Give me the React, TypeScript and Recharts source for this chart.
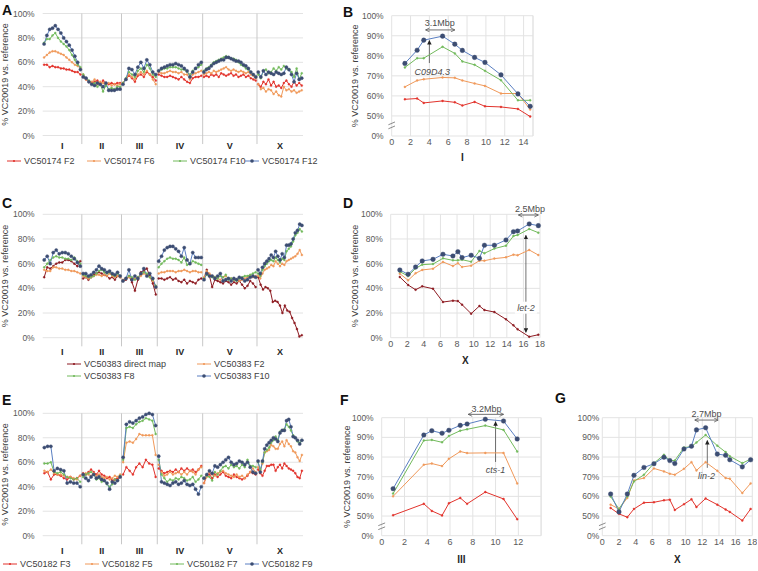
import React from "react";
import {
  LineChart,
  Line,
  XAxis,
  YAxis,
  CartesianGrid,
  ReferenceLine,
  ReferenceDot,
} from "recharts";

const FONT = '"Liberation Sans", Arial, sans-serif';
const RED = "#e2332c";
const DARKRED = "#8e1b22";
const ORANGE = "#f0995a";
const GREEN = "#72ba5c";
const BLUE = "#5a7fc2";
const NAVY = "#3c4d72";
const GRID = "#e3e3e3";
const SEP = "#c8c8c8";
const TICK = "#595959";
const INK = "#404040";
const ANNO = "#4d4d4d";

// chromosomes (Mb)
const CHROMS = ["I", "II", "III", "IV", "V", "X"];
const CHROM_LEN = [15.07, 15.28, 13.78, 17.49, 20.92, 17.72];

// ---- A: VC50174, one array per chromosome ----
const aF2 = [
  [58, 58, 56, 57, 56, 56, 55, 55, 54, 54, 53, 52, 52, 50],
  [48, 46, 44, 43, 44, 45, 42, 45, 43, 42, 43, 42, 43, 43],
  [43, 46, 49, 47, 44, 49, 50, 48, 52, 50, 48, 45],
  [50, 49, 48, 48, 49, 48, 47, 46, 48, 46, 44, 43, 47, 48, 48, 49],
  [48, 49, 48, 50, 49, 50, 48, 51, 50, 49, 50, 51, 49, 50, 48, 49, 50, 48, 49, 47, 46, 45],
  [42, 40, 44, 42, 46, 41, 44, 40, 41, 39, 43, 45, 42, 40, 44, 41, 43, 41],
];
const aF6 = [
  [64, 66, 68, 69, 69, 68, 67, 66, 64, 62, 60, 58, 57, 55],
  [50, 46, 44, 44, 46, 42, 44, 43, 42, 43, 41, 42, 41, 42],
  [43, 46, 50, 48, 46, 50, 52, 50, 53, 50, 46, 42],
  [52, 51, 51, 52, 53, 52, 52, 51, 52, 50, 50, 46, 50, 51, 52, 53],
  [50, 51, 52, 51, 53, 52, 53, 54, 55, 56, 54, 53, 54, 53, 52, 53, 52, 51, 52, 50, 49, 47],
  [42, 38, 39, 36, 38, 37, 34, 36, 33, 32, 40, 37, 38, 36, 37, 35, 36, 37],
];
const aF10 = [
  [76, 79, 79, 82, 84, 80, 77, 75, 73, 70, 66, 62, 58, 56],
  [50, 47, 45, 42, 43, 40, 42, 36, 41, 38, 39, 38, 40, 40],
  [43, 47, 52, 50, 48, 53, 55, 52, 58, 55, 50, 48],
  [53, 54, 55, 55, 56, 56, 56, 55, 54, 54, 52, 50, 53, 55, 56, 58],
  [53, 55, 56, 58, 60, 61, 62, 63, 64, 65, 64, 63, 63, 62, 60, 58, 57, 55, 54, 52, 50, 48],
  [50, 47, 53, 54, 51, 52, 55, 53, 56, 54, 57, 55, 54, 52, 48, 55, 46, 51],
];
const aF12 = [
  [75, 82, 87, 88, 90, 87, 84, 80, 77, 74, 70, 65, 60, 54],
  [48, 47, 44, 42, 41, 43, 42, 40, 43, 37, 37, 37, 38, 38],
  [42, 46, 55, 54, 50, 56, 60, 55, 62, 58, 52, 50],
  [53, 55, 56, 57, 58, 58, 59, 58, 57, 55, 53, 48, 52, 55, 58, 60],
  [52, 54, 55, 57, 59, 60, 61, 62, 62, 64, 64, 63, 62, 61, 61, 60, 58, 57, 55, 52, 50, 48],
  [52, 48, 53, 50, 52, 51, 50, 52, 51, 50, 51, 56, 54, 50, 44, 51, 46, 47],
];

// ---- C: VC50383 ----
const cDM = [
  [49, 57, 56, 58, 60, 61, 61, 63, 63, 62, 60, 58, 62],
  [48, 49, 47, 49, 51, 52, 53, 52, 51, 50, 48, 49, 47, 50, 49],
  [46, 47, 50, 45, 38, 47, 53, 54, 56, 50, 44, 35],
  [48, 48, 47, 48, 49, 47, 48, 46, 45, 47, 44, 46, 45, 44, 47, 48],
  [48, 55, 50, 41, 47, 46, 45, 44, 46, 45, 43, 45, 44, 46, 43, 40, 42, 46, 44, 41],
  [49, 43, 39, 41, 40, 38, 29, 30, 29, 26, 20, 26, 22, 21, 16, 12, 7, 1, 2],
];
const cF2 = [
  [55, 54, 54, 57, 57, 56, 56, 55, 55, 54, 54, 53, 52],
  [50, 49, 48, 49, 50, 51, 51, 50, 51, 50, 52, 50, 49, 50, 49],
  [47, 48, 49, 48, 48, 49, 50, 52, 51, 49, 46, 40],
  [52, 53, 53, 54, 54, 54, 53, 54, 54, 55, 54, 53, 54, 54, 53, 53],
  [49, 54, 52, 50, 49, 48, 47, 49, 50, 48, 48, 47, 47, 46, 47, 48, 49, 50, 49, 50],
  [50, 48, 52, 55, 56, 57, 59, 58, 62, 60, 58, 60, 59, 62, 63, 64, 65, 66, 68, 71, 67],
];
const cF8 = [
  [57, 60, 63, 65, 66, 65, 65, 64, 64, 63, 65, 62, 60],
  [51, 50, 49, 49, 50, 52, 54, 55, 53, 52, 53, 51, 50, 52, 50],
  [46, 48, 50, 49, 47, 49, 52, 53, 52, 49, 47, 42],
  [57, 60, 62, 64, 65, 64, 64, 63, 61, 65, 59, 60, 62, 61, 60, 59],
  [48, 51, 50, 49, 49, 48, 50, 49, 51, 47, 48, 47, 46, 48, 49, 50, 50, 51, 52, 53],
  [52, 50, 55, 58, 60, 62, 63, 62, 65, 63, 61, 64, 63, 70, 72, 74, 78, 83, 85, 88, 86],
];
const cF10 = [
  [63, 66, 60, 69, 71, 68, 69, 69, 68, 66, 64, 61, 58],
  [52, 52, 50, 51, 53, 55, 58, 56, 55, 53, 54, 52, 51, 53, 50],
  [46, 48, 55, 47, 50, 48, 52, 56, 50, 52, 48, 41],
  [62, 66, 71, 73, 74, 74, 72, 70, 66, 73, 63, 60, 69, 65, 65, 65],
  [47, 52, 50, 50, 48, 50, 52, 46, 47, 48, 46, 48, 47, 49, 48, 46, 47, 49, 50, 49],
  [55, 52, 57, 60, 62, 64, 67, 65, 70, 66, 63, 68, 65, 75, 75, 76, 80, 85, 87, 92, 91],
];

// ---- E: VC50182 ----
const eF3 = [
  [51, 52, 46, 50, 50, 49, 47, 46, 48, 46, 47, 49],
  [51, 50, 52, 54, 52, 50, 53, 50, 49, 47, 48, 45, 46, 47, 48],
  [50, 56, 53, 50, 56, 59, 56, 62, 59, 58, 48],
  [55, 53, 51, 52, 53, 52, 54, 52, 55, 53, 55, 53, 54, 52, 54, 57],
  [43, 49, 50, 47, 50, 48, 50, 52, 49, 48, 47, 50, 48, 47, 46, 47, 49, 52, 51, 50],
  [54, 51, 49, 53, 57, 57, 58, 58, 53, 56, 58, 55, 59, 57, 55, 54, 53, 51, 48, 47, 53],
];
const eF5 = [
  [53, 52, 54, 51, 50, 50, 49, 48, 48, 47, 46, 49],
  [50, 51, 50, 49, 51, 49, 50, 48, 47, 48, 46, 47, 49, 48, 50],
  [60, 76, 77, 76, 79, 83, 82, 82, 82, 82, 66],
  [58, 52, 49, 50, 52, 50, 51, 52, 50, 52, 50, 53, 52, 50, 54, 56],
  [43, 48, 52, 50, 49, 51, 52, 53, 51, 50, 49, 48, 50, 48, 49, 47, 50, 52, 55, 52],
  [56, 53, 59, 68, 69, 70, 74, 73, 71, 71, 75, 77, 73, 78, 75, 73, 69, 68, 64, 61, 66],
];
const eF7 = [
  [59, 59, 60, 52, 51, 52, 50, 48, 47, 46, 47, 44],
  [48, 50, 51, 52, 50, 46, 47, 44, 45, 42, 40, 42, 46, 45, 49],
  [62, 88, 89, 88, 91, 93, 94, 96, 95, 94, 83],
  [62, 50, 47, 44, 46, 45, 47, 46, 48, 47, 45, 46, 48, 44, 46, 49],
  [47, 49, 48, 45, 52, 50, 53, 56, 57, 55, 58, 56, 57, 55, 58, 56, 62, 57, 57, 56],
  [60, 54, 60, 68, 70, 72, 76, 78, 81, 78, 85, 86, 87, 91, 89, 86, 82, 80, 77, 76, 78],
];
const eF9 = [
  [72, 73, 73, 53, 55, 54, 53, 43, 44, 43, 43, 40],
  [50, 47, 45, 48, 50, 47, 48, 46, 45, 43, 38, 44, 43, 45, 48],
  [64, 91, 93, 92, 94, 96, 97, 99, 100, 99, 90],
  [65, 44, 43, 42, 41, 43, 44, 42, 43, 45, 42, 41, 42, 38, 34, 40],
  [47, 50, 53, 51, 57, 56, 58, 60, 62, 64, 60, 58, 59, 61, 60, 58, 60, 56, 52, 51],
  [61, 52, 61, 71, 74, 76, 78, 80, 79, 77, 84, 86, 86, 94, 95, 89, 81, 80, 78, 75, 78],
];

// ---- B: chromosome I detail ----
const bX = [1.4, 2.7, 3.4, 5.4, 6.7, 7.5, 8.8, 9.9, 11.6, 13.4, 14.7];
const bF2 = [58.3, 58.7, 56.5, 57.5, 56.8, 55.2, 57, 54.8, 54.5, 53.5, 49.7];
const bF6 = [64.5, 67.7, 68.3, 69.2, 69, 67.7, 66.2, 65, 61.2, 61.2, 53.2];
const bF10 = [74.2, 78.8, 78.8, 84.5, 81.2, 77.2, 75.5, 72.5, 67.8, 57.8, 57.8];
const bF12 = [76.2, 82.8, 87.8, 89.8, 85.8, 82.7, 79.2, 76.7, 70.5, 61, 54.8];

// ---- D: chromosome X detail ----
const dX = [1.1, 2.1, 3.0, 3.8, 5.1, 6.3, 7.5, 8.1, 8.6, 9.7, 10.7, 11.3, 12.5, 13.9, 14.8, 15.3, 16.7, 17.8];
const dDM = [49.2, 42.7, 38.9, 41.6, 39.7, 28.9, 30, 29.7, 26.8, 19.5, 25.7, 22.4, 20.8, 14.9, 10, 6.8, 0.8, 2.4];
const dF2 = [51.9, 46.5, 52.2, 54.9, 55.9, 61.4, 58.1, 60.3, 57.3, 58.4, 62.4, 62.4, 64.1, 65.1, 67.3, 66.8, 71.1, 67];
const dF8 = [53.5, 50, 56.2, 59.2, 59.7, 64.3, 62.7, 62.7, 63.2, 61.6, 70.3, 68.4, 72.2, 74.6, 82.4, 83.2, 88.1, 85.1];
const dF10 = [54.9, 51.4, 57.3, 62.2, 63.5, 67.6, 66.2, 69.7, 64.9, 66.8, 64.3, 74.9, 74.9, 79.2, 85.9, 86.5, 92.2, 90.8];

// ---- F: chromosome III detail ----
const fX = [1.0, 3.7, 4.4, 5.3, 5.9, 6.9, 7.5, 9.1, 10.7, 11.9];
const fF3 = [50.4, 56.2, 52.6, 50.3, 56.5, 59.2, 56.2, 62.2, 58.7, 48.4];
const fF5 = [60, 76.1, 76.7, 75.4, 79.1, 82.8, 82, 82.1, 82.1, 66.6];
const fF7 = [61.4, 88.4, 88.7, 87.5, 90.7, 93.4, 94.1, 96, 93.8, 82.8];
const fF9 = [63.9, 91.2, 93.4, 92.1, 93.6, 96.1, 96.8, 99.2, 98.3, 89.2];

// ---- G: chromosome X detail ----
const gX = [1.0, 2.0, 3.0, 3.8, 5.0, 6.2, 7.4, 8.1, 8.7, 9.8, 10.7, 11.3, 12.4, 13.8, 14.8, 15.3, 16.8, 17.8];
const gF3 = [54.1, 51.1, 49.4, 53.6, 56.8, 57, 58, 58.3, 53.1, 56, 58.5, 54.6, 58.9, 55.8, 53.3, 52.1, 47.7, 53.6];
const gF5 = [55.8, 53.6, 59.2, 68.1, 69.3, 74.2, 72.7, 71.5, 71, 74, 77.4, 73.2, 77.4, 73, 69.3, 69, 61.7, 66.6];
const gF7 = [59.9, 53.6, 59.9, 67.6, 71, 76.9, 81.1, 78.2, 78.2, 84.8, 85.3, 87.4, 91.2, 85.8, 82.5, 80.4, 76.9, 78.9];
const gF9 = [61.2, 52.1, 61.2, 70.7, 74.7, 76.6, 79.9, 78.2, 76.7, 84.1, 85.5, 93.8, 94.9, 81.5, 80.9, 78.6, 75, 78.6];

const OFFSETS = CHROM_LEN.map((_, i) => CHROM_LEN.slice(0, i).reduce((a, b) => a + b, 0));
const GENOME_END = OFFSETS[5] + CHROM_LEN[5];
const CENTERS = OFFSETS.map((o, i) => o + CHROM_LEN[i] / 2);
const BOUNDS = OFFSETS.slice(1);

// evenly spaced bins in each chromosome, null row to break the line between chromosomes
function genomeRows(perChrom: number[][]) {
  const rows: { x: number; v: number | null }[] = [];
  perChrom.forEach((vals, c) => {
    const step = CHROM_LEN[c] / vals.length;
    vals.forEach((v, i) => rows.push({ x: OFFSETS[c] + step * (i + 0.5), v }));
    rows.push({ x: OFFSETS[c] + CHROM_LEN[c], v: null });
  });
  return rows;
}

const yTitle = (offset: number) => ({
  value: "% VC20019 vs. reference",
  angle: -90,
  position: "insideLeft",
  offset,
  fontSize: 9,
  fill: INK,
  style: { textAnchor: "middle" },
});

const dotFor = (color: string, navy?: boolean, big = 1.6) =>
  navy
    ? { r: big, fill: NAVY, stroke: NAVY, strokeWidth: 0.4 }
    : { r: 1, fill: color, stroke: color, strokeWidth: 0.4 };

type GLine = { name: string; values: number[][]; color: string; navy?: boolean };

function GenomeChart({
  top,
  height,
  plotTop,
  axisH,
  tickMargin,
  lines,
}: {
  top: number;
  height: number;
  plotTop: number;
  axisH: number;
  tickMargin: number;
  lines: GLine[];
}) {
  return (
    <div style={{ position: "absolute", left: 0, top }}>
      <LineChart width={310} height={height} margin={{ top: plotTop, right: 7, bottom: 0, left: 0 }}>
        <CartesianGrid vertical={false} stroke={GRID} />
        <XAxis
          type="number"
          dataKey="x"
          domain={[0, GENOME_END]}
          ticks={CENTERS}
          interval={0}
          tickFormatter={(v: number) => CHROMS[CENTERS.indexOf(v)]}
          axisLine={false}
          tickLine={false}
          tickMargin={tickMargin}
          height={axisH}
          tick={{ fontSize: 9, fontWeight: 700, fill: "#262626" }}
        />
        <YAxis
          type="number"
          domain={[0, 100]}
          ticks={[0, 20, 40, 60, 80, 100]}
          interval={0}
          tickFormatter={(v: number) => `${v}%`}
          axisLine={false}
          tickLine={false}
          width={42.7}
          tick={{ fontSize: 8.5, fill: TICK }}
          label={yTitle(5) as any}
        />
        {BOUNDS.map((b) => (
          <ReferenceLine
            key={b}
            segment={[
              { x: b, y: -7 },
              { x: b, y: 100 },
            ]}
            stroke={SEP}
            ifOverflow="visible"
          />
        ))}
        {lines.map((l) => (
          <Line
            key={l.name}
            data={genomeRows(l.values)}
            dataKey="v"
            stroke={l.color}
            strokeWidth={1}
            dot={dotFor(l.color, l.navy)}
            connectNulls={false}
            isAnimationActive={false}
          />
        ))}
      </LineChart>
    </div>
  );
}

// annotation helpers (data coordinates)
const arrow = (key: string, x1: number, y1: number, x2: number, y2: number, kind: "open" | "fill") => (
  <ReferenceLine
    key={key}
    segment={[
      { x: x1, y: y1 },
      { x: x2, y: y2 },
    ]}
    ifOverflow="visible"
    shape={(p: any) => (
      <line
        x1={p.x1}
        y1={p.y1}
        x2={p.x2}
        y2={p.y2}
        stroke={ANNO}
        strokeWidth={0.8}
        markerEnd={kind === "open" ? "url(#arrOpen)" : "url(#arrFill)"}
        markerStart={kind === "open" ? "url(#arrOpen)" : undefined}
      />
    )}
  />
);

const arrow2 = (key: string, x: number, y1: number, y2: number) => (
  <ReferenceLine
    key={key}
    segment={[
      { x, y: y1 },
      { x, y: y2 },
    ]}
    ifOverflow="visible"
    shape={(p: any) => (
      <line
        x1={p.x1}
        y1={p.y1}
        x2={p.x2}
        y2={p.y2}
        stroke={ANNO}
        strokeWidth={0.8}
        markerEnd="url(#arrFill)"
        markerStart="url(#arrFill)"
      />
    )}
  />
);

const note = (key: string, x: number, y: number, text: string, italic = false, bg = 0) => (
  <ReferenceDot
    key={key}
    x={x}
    y={y}
    r={1}
    ifOverflow="visible"
    shape={(p: any) => (
      <g>
        {bg > 0 && <rect x={p.cx - bg / 2} y={p.cy - 6} width={bg} height={12} fill="#fff" />}
        <text
          x={p.cx}
          y={p.cy}
          dy="0.35em"
          textAnchor="middle"
          fontSize={9}
          fontStyle={italic ? "italic" : "normal"}
          fill={ANNO}
        >
          {text}
        </text>
      </g>
    )}
  />
);

const breakMark = (key: string, y: number, dx: number) => [
  <ReferenceLine
    key={key + "a"}
    segment={[
      { x: -dx, y: y - 1.4 },
      { x: dx, y: y },
    ]}
    stroke="#8c8c8c"
    ifOverflow="visible"
  />,
  <ReferenceLine
    key={key + "b"}
    segment={[
      { x: -dx, y: y + 0.6 },
      { x: dx, y: y + 2 },
    ]}
    stroke="#8c8c8c"
    ifOverflow="visible"
  />,
];

type DLine = { key: string; color: string; navy?: boolean };

function DetailChart(props: {
  left: number;
  top: number;
  width: number;
  height: number;
  mTop: number;
  mRight: number;
  yW: number;
  xH: number;
  xMax: number;
  xTicks: number[];
  xLabel: string;
  xLabelOffset: number;
  broken: boolean;
  titleOffset?: number;
  yTickMargin?: number;
  data: any[];
  lines: DLine[];
  extras: React.ReactNode[];
  edge?: number;
}) {
  const { broken } = props;
  const yv = (v: number) => (broken ? v - 40 : v);
  return (
    <div style={{ position: "absolute", left: props.left, top: props.top }}>
      <LineChart
        width={props.width}
        height={props.height}
        margin={{ top: props.mTop, right: props.mRight, bottom: 0, left: 0 }}
      >
        <CartesianGrid stroke={GRID} />
        <XAxis
          type="number"
          dataKey="x"
          domain={[0, props.xMax]}
          ticks={props.xTicks}
          interval={0}
          axisLine={false}
          tickLine={false}
          tickSize={1}
          tickMargin={2}
          height={props.xH}
          tick={{ fontSize: 9, fill: TICK }}
          label={{
            value: props.xLabel,
            position: "insideBottom",
            offset: props.xLabelOffset,
            fontSize: 10,
            fontWeight: 700,
            fill: "#262626",
          }}
        />
        <YAxis
          type="number"
          domain={broken ? [0, 60] : [0, 100]}
          ticks={broken ? [0, 10, 20, 30, 40, 50, 60] : [0, 20, 40, 60, 80, 100]}
          interval={0}
          tickFormatter={(t: number) => (broken ? (t === 0 ? "0%" : `${t + 40}%`) : `${t}%`)}
          axisLine={false}
          tickLine={false}
          tickSize={props.yTickMargin !== undefined ? 2 : 6}
          tickMargin={props.yTickMargin !== undefined ? props.yTickMargin : 2}
          width={props.yW}
          tick={{ fontSize: 8.5, fill: TICK }}
          label={props.titleOffset !== undefined ? (yTitle(props.titleOffset) as any) : undefined}
        />
        {props.edge !== undefined && <ReferenceLine x={props.edge} stroke={GRID} />}
        {props.extras}
        {props.lines.map((l) => (
          <Line
            key={l.key}
            data={props.data}
            dataKey={(d: any) => yv(d[l.key])}
            stroke={l.color}
            strokeWidth={1}
            dot={dotFor(l.color, l.navy, 2.3)}
            isAnimationActive={false}
          />
        ))}
      </LineChart>
    </div>
  );
}

function LegendItem({ x, y, color, navy, text }: { x: number; y: number; color: string; navy?: boolean; text: string }) {
  return (
    <div
      style={{
        position: "absolute",
        left: x,
        top: y - 6,
        height: 12,
        display: "flex",
        alignItems: "center",
        fontSize: 9,
        color: INK,
        whiteSpace: "nowrap",
      }}
    >
      <svg width={14} height={8} style={{ marginRight: 3 }}>
        <line x1={0} y1={4} x2={14} y2={4} stroke={color} strokeWidth={1} />
        <circle cx={7} cy={4} r={navy ? 1.8 : 1.1} fill={navy ? NAVY : color} />
      </svg>
      {text}
    </div>
  );
}

function Letter({ x, y, t }: { x: number; y: number; t: string }) {
  return (
    <div style={{ position: "absolute", left: x, top: y, fontSize: 14, fontWeight: 700, color: "#111", lineHeight: "16px" }}>
      {t}
    </div>
  );
}

const bRows = bX.map((x, i) => ({ x, f2: bF2[i], f6: bF6[i], f10: bF10[i], f12: bF12[i] }));
const dRows = dX.map((x, i) => ({ x, dm: dDM[i], f2: dF2[i], f8: dF8[i], f10: dF10[i] }));
const fRows = fX.map((x, i) => ({ x, f3: fF3[i], f5: fF5[i], f7: fF7[i], f9: fF9[i] }));
const gRows = gX.map((x, i) => ({ x, f3: gF3[i], f5: gF5[i], f7: gF7[i], f9: gF9[i] }));

const bk = (v: number) => v - 40;

export default function App() {
  return (
    <div
      style={{
        position: "absolute",
        left: 0,
        top: 0,
        width: 758,
        height: 571,
        background: "#fff",
        fontFamily: FONT,
        overflow: "hidden",
      }}
    >
      <svg width={0} height={0} style={{ position: "absolute" }}>
        <defs>
          <marker id="arrOpen" viewBox="0 0 10 10" refX="9" refY="5" markerWidth="5" markerHeight="5" markerUnits="userSpaceOnUse" orient="auto-start-reverse">
            <path d="M1,1 L9,5 L1,9" fill="none" stroke={ANNO} strokeWidth="1.4" />
          </marker>
          <marker id="arrFill" viewBox="0 0 10 10" refX="9" refY="5" markerWidth="4.5" markerHeight="4.5" markerUnits="userSpaceOnUse" orient="auto-start-reverse">
            <path d="M0,0 L10,5 L0,10 z" fill="#222" />
          </marker>
        </defs>
      </svg>

      <Letter x={2} y={2} t="A" />
      <Letter x={343} y={4} t="B" />
      <Letter x={2} y={195} t="C" />
      <Letter x={343} y={195} t="D" />
      <Letter x={2} y={392} t="E" />
      <Letter x={340} y={392} t="F" />
      <Letter x={555} y={390} t="G" />

      <GenomeChart
        top={0}
        height={155}
        plotTop={13.5}
        axisH={19.5}
        tickMargin={1}
        lines={[
          { name: "F2", values: aF2, color: RED },
          { name: "F6", values: aF6, color: ORANGE },
          { name: "F10", values: aF10, color: GREEN },
          { name: "F12", values: aF12, color: BLUE, navy: true },
        ]}
      />
      <LegendItem x={7} y={161} color={RED} text="VC50174 F2" />
      <LegendItem x={87} y={161} color={ORANGE} text="VC50174 F6" />
      <LegendItem x={173} y={161} color={GREEN} text="VC50174 F10" />
      <LegendItem x={245} y={161} color={BLUE} navy text="VC50174 F12" />

      <GenomeChart
        top={200}
        height={160}
        plotTop={14.3}
        axisH={22.3}
        tickMargin={4.5}
        lines={[
          { name: "DM", values: cDM, color: DARKRED },
          { name: "F2", values: cF2, color: ORANGE },
          { name: "F8", values: cF8, color: GREEN },
          { name: "F10", values: cF10, color: BLUE, navy: true },
        ]}
      />
      <LegendItem x={67} y={364} color={DARKRED} text="VC50383 direct map" />
      <LegendItem x={197} y={364} color={ORANGE} text="VC50383 F2" />
      <LegendItem x={67} y={376} color={GREEN} text="VC50383 F8" />
      <LegendItem x={197} y={376} color={BLUE} navy text="VC50383 F10" />

      <GenomeChart
        top={400}
        height={160}
        plotTop={13.3}
        axisH={24.3}
        tickMargin={5.5}
        lines={[
          { name: "F3", values: eF3, color: RED },
          { name: "F5", values: eF5, color: ORANGE },
          { name: "F7", values: eF7, color: GREEN },
          { name: "F9", values: eF9, color: BLUE, navy: true },
        ]}
      />
      <LegendItem x={3} y={564} color={RED} text="VC50182 F3" />
      <LegendItem x={85} y={564} color={ORANGE} text="VC50182 F5" />
      <LegendItem x={170} y={564} color={GREEN} text="VC50182 F7" />
      <LegendItem x={245} y={564} color={BLUE} navy text="VC50182 F9" />

      <DetailChart
        left={350}
        top={0}
        width={190}
        height={165}
        mTop={15.7}
        mRight={7}
        yW={41.7}
        xH={29}
        xMax={15}
        xTicks={[0, 2, 4, 6, 8, 10, 12, 14]}
        xLabel="I"
        xLabelOffset={4.5}
        broken
        titleOffset={5}
        data={bRows}
        edge={15}
        lines={[
          { key: "f2", color: RED },
          { key: "f6", color: ORANGE },
          { key: "f10", color: GREEN },
          { key: "f12", color: BLUE, navy: true },
        ]}
        extras={[
          ...breakMark("bb", 5, 0.35),
          arrow("b1", 3.6, bk(92.9), 6.7, bk(92.9), "open"),
          note("b2", 5.1, bk(96.2), "3.1Mbp"),
          arrow("b3", 4.0, bk(76.4), 4.0, bk(87.6), "fill"),
          note("b4", 4.3, bk(72.1), "C09D4.3", true),
        ]}
      />

      <DetailChart
        left={350}
        top={200}
        width={197}
        height={166}
        mTop={14.3}
        mRight={7}
        yW={40.7}
        xH={28.3}
        xMax={18}
        xTicks={[0, 2, 4, 6, 8, 10, 12, 14, 16, 18]}
        xLabel="X"
        xLabelOffset={2.5}
        broken={false}
        titleOffset={5}
        data={dRows}
        lines={[
          { key: "dm", color: DARKRED },
          { key: "f2", color: ORANGE },
          { key: "f8", color: GREEN },
          { key: "f10", color: BLUE, navy: true },
        ]}
        extras={[
          arrow("d1", 15.4, 99.4, 17.8, 99.4, "open"),
          note("d2", 16.8, 104.3, "2.5Mbp"),
          arrow2("d3", 16.3, 4.3, 83),
          note("d4", 16.3, 24.3, "let-2", true, 22),
        ]}
      />

      <DetailChart
        left={340}
        top={400}
        width={210}
        height={168}
        mTop={17.7}
        mRight={8.9}
        yW={41.7}
        xH={32.3}
        xMax={14}
        xTicks={[0, 2, 4, 6, 8, 10, 12]}
        xLabel="III"
        xLabelOffset={5}
        broken
        titleOffset={6.7}
        data={fRows}
        edge={14}
        lines={[
          { key: "f3", color: RED },
          { key: "f5", color: ORANGE },
          { key: "f7", color: GREEN },
          { key: "f9", color: BLUE, navy: true },
        ]}
        extras={[
          ...breakMark("fb", 4.5, 0.3),
          arrow("f1", 7.6, bk(101.7), 10.7, bk(101.7), "open"),
          note("f2", 9.2, bk(104.4), "3.2Mbp"),
          arrow("f3", 10.0, bk(77.5), 10.0, bk(98), "fill"),
          note("f4", 10.0, bk(73.5), "cts-1", true),
        ]}
      />

      <DetailChart
        left={560}
        top={400}
        width={197.3}
        height={168}
        mTop={17.7}
        mRight={5}
        yW={42.3}
        xH={32.3}
        xMax={18}
        xTicks={[0, 2, 4, 6, 8, 10, 12, 14, 16, 18]}
        xLabel="X"
        xLabelOffset={5}
        broken
        yTickMargin={1}
        data={gRows}
        lines={[
          { key: "f3", color: RED },
          { key: "f5", color: ORANGE },
          { key: "f7", color: GREEN },
          { key: "f9", color: BLUE, navy: true },
        ]}
        extras={[
          ...breakMark("gb", 4.5, 0.4),
          arrow("g1", 11.1, bk(98.8), 13.9, bk(98.8), "open"),
          note("g2", 12.5, bk(101.8), "2.7Mbp"),
          arrow("g3", 12.6, bk(74.5), 12.6, bk(88.4), "fill"),
          note("g4", 12.5, bk(70.2), "lin-2", true),
        ]}
      />
    </div>
  );
}
